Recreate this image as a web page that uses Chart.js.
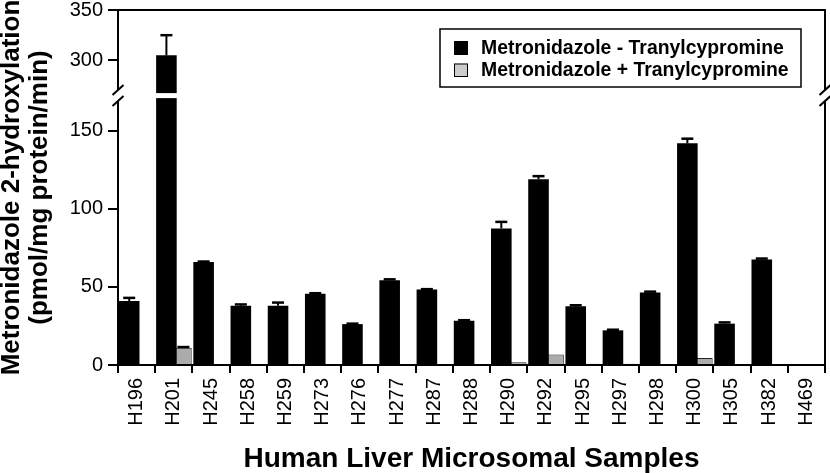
<!DOCTYPE html>
<html><head><meta charset="utf-8">
<script src="https://cdn.jsdelivr.net/npm/chart.js@4.4.1/dist/chart.umd.min.js"></script>
<style>html,body{margin:0;padding:0;background:#fff;}canvas{display:block;}</style>
</head><body>
<canvas id="c" width="830" height="473"></canvas>
<script>
// ---- data ----
const categories = ['H196','H201','H245','H258','H259','H273','H276','H277','H287','H288','H290','H292','H295','H297','H298','H300','H305','H382','H469'];
const withoutTcp    = [41, 305, 66, 38, 38, 45.7, 26.2, 54.3, 48.3, 28.4, 87.5, 119, 37.6, 22.2, 46.5, 142, 26.5, 67.6, 0];
const withoutTcpErr = [2, 20, 0.3, 0.8, 2, 0.3, 0.3, 0.6, 0.3, 0.3, 4.2, 2, 0.7, 0.4, 0.5, 3, 0.8, 0.6, 0];
const withTcp       = [0, 11, 0, 0, 0, 0, 0, 0, 0, 0, 1.8, 6.7, 0.8, 0.8, 0.7, 4.5, 0, 0, 0];
const withTcpErr    = [0, 0.5, 0, 0, 0, 0, 0, 0, 0, 0, 0, 0, 0, 0, 0, 0, 0, 0, 0];
const yTicks = [0, 50, 100, 150, 300, 350];
const seriesNames = ['Metronidazole - Tranylcypromine', 'Metronidazole + Tranylcypromine'];
const yTitle = ['Metronidazole 2-hydroxylation', '(pmol/mg protein/min)'];
const xTitle = 'Human Liver Microsomal Samples';
const axisBreak = { low: 171, high: 267.5 };

// ---- styling ----
const FONT = '"Liberation Sans", Arial, Helvetica, sans-serif';
const BREAK_FRAC = { low: 0.7518, high: 0.7659 };
const BLACK = '#000000', GRAY = '#ababab', LEGEND_GRAY = '#cccccc';

class BrokenScale extends Chart.LinearScale {
  static id = 'broken';
  getPixelForValue(value) {
    if (value === null || value === undefined || isNaN(value)) return NaN;
    const max = this.max;
    let dec;
    if (value <= axisBreak.low) dec = value / axisBreak.low * BREAK_FRAC.low;
    else if (value >= axisBreak.high) dec = BREAK_FRAC.high + (value - axisBreak.high) / (max - axisBreak.high) * (1 - BREAK_FRAC.high);
    else dec = BREAK_FRAC.low + (value - axisBreak.low) / (axisBreak.high - axisBreak.low) * (BREAK_FRAC.high - BREAK_FRAC.low);
    return this.getPixelForDecimal(dec);
  }
  getValueForPixel(pixel) {
    const dec = this.getDecimalForPixel(pixel);
    if (dec <= BREAK_FRAC.low) return dec / BREAK_FRAC.low * axisBreak.low;
    if (dec >= BREAK_FRAC.high) return axisBreak.high + (dec - BREAK_FRAC.high) / (1 - BREAK_FRAC.high) * (this.max - axisBreak.high);
    return axisBreak.low + (dec - BREAK_FRAC.low) / (BREAK_FRAC.high - BREAK_FRAC.low) * (axisBreak.high - axisBreak.low);
  }
}
Chart.register(BrokenScale);

const decor = {
  id: 'decor',
  afterDatasetsDraw(chart) {
    const { ctx, scales: { y } } = chart;
    [[0, withoutTcp, withoutTcpErr], [1, withTcp, withTcpErr]].forEach(([di, vals, errs]) => {
      const meta = chart.getDatasetMeta(di);
      meta.data.forEach((bar, i) => {
        const e = errs[i];
        if (!e) return;
        const yTop = y.getPixelForValue(vals[i] + e);
        ctx.save();
        ctx.strokeStyle = BLACK;
        ctx.lineWidth = 2;
        ctx.beginPath(); ctx.moveTo(bar.x, bar.y); ctx.lineTo(bar.x, yTop); ctx.stroke();
        ctx.lineWidth = 2.5;
        ctx.beginPath(); ctx.moveTo(bar.x - 6, yTop); ctx.lineTo(bar.x + 6, yTop); ctx.stroke();
        ctx.restore();
      });
    });
  },
  afterDraw(chart) {
    const { ctx, chartArea: ca, scales: { y } } = chart;
    ctx.save();
    // frame top & right
    ctx.strokeStyle = BLACK; ctx.lineWidth = 2;
    ctx.beginPath();
    ctx.moveTo(ca.left, ca.top); ctx.lineTo(ca.right, ca.top); ctx.lineTo(ca.right, ca.bottom + 1);
    ctx.stroke();
    // axis break
    const g1 = y.getPixelForValue(axisBreak.high), g2 = y.getPixelForValue(axisBreak.low);
    ctx.fillStyle = '#ffffff';
    ctx.fillRect(ca.left + 1, g1, ca.right - ca.left - 2, g2 - g1);
    const gm = (g1 + g2) / 2;
    [ca.left, ca.right].forEach(xa => {
      ctx.fillStyle = '#ffffff';
      ctx.fillRect(xa - 3, gm - 5.5, 6, 11);
      ctx.strokeStyle = BLACK; ctx.lineWidth = 2;
      [gm - 5.5, gm + 5.5].forEach(cy => {
        ctx.beginPath(); ctx.moveTo(xa - 5.5, cy + 5); ctx.lineTo(xa + 5.5, cy - 5); ctx.stroke();
      });
    });
    // legend
    ctx.lineWidth = 1.5; ctx.strokeStyle = BLACK;
    ctx.strokeRect(440, 29, 361, 58);
    ctx.fillStyle = BLACK; ctx.fillRect(454, 41, 14, 14);
    ctx.fillStyle = LEGEND_GRAY; ctx.fillRect(454, 63.5, 14, 13);
    ctx.lineWidth = 1; ctx.strokeRect(454.5, 64, 13, 12.5);
    ctx.fillStyle = BLACK;
    ctx.font = 'bold 19.4px ' + FONT;
    ctx.textBaseline = 'middle'; ctx.textAlign = 'left';
    ctx.fillText(seriesNames[0], 481, 48.5);
    ctx.fillText(seriesNames[1], 481, 71);
    ctx.restore();
  }
};

new Chart(document.getElementById('c'), {
  type: 'bar',
  data: {
    labels: categories,
    datasets: [
      { label: seriesNames[0], data: withoutTcp, backgroundColor: BLACK, borderWidth: 0,
        categoryPercentage: 0.796, barPercentage: 1.39 },
      { label: seriesNames[1], data: withTcp, backgroundColor: GRAY, borderColor: '#222', borderWidth: 1,
        categoryPercentage: 1.032, barPercentage: 0.865 }
    ]
  },
  options: {
    responsive: false,
    animation: false,
    layout: { padding: { top: 10, right: 5, left: 0, bottom: 0 } },
    plugins: { legend: { display: false }, tooltip: { enabled: false } },
    scales: {
      x: {
        type: 'category',
        offset: true,
        afterFit: s => { s.height = 108; s.paddingLeft = 0; s.paddingRight = 0; },
        grid: { offset: true, drawOnChartArea: false, drawTicks: true, tickLength: 8, color: BLACK, lineWidth: 2 },
        border: { display: true, color: BLACK, width: 2 },
        ticks: { color: BLACK, font: { family: FONT, size: 20, lineHeight: 1 }, padding: 5,
                 maxRotation: 90, minRotation: 90, autoSkip: false },
        title: { display: true, text: xTitle, color: BLACK,
                 font: { family: FONT, size: 28, weight: 'bold', lineHeight: 1 }, padding: { top: 0, bottom: 0 } }
      },
      y: {
        type: 'broken',
        min: 0, max: 350,
        afterBuildTicks: s => { s.ticks = yTicks.map(v => ({ value: v })); },
        afterFit: s => { s.width = 118; s.paddingTop = 0; s.paddingBottom = 0; },
        grid: { drawOnChartArea: false, drawTicks: true, tickLength: 10, color: BLACK, lineWidth: 2 },
        border: { display: true, color: BLACK, width: 2 },
        ticks: { color: BLACK, font: { family: FONT, size: 20, lineHeight: 1 }, padding: 5, autoSkip: false },
        title: { display: true, text: yTitle, color: BLACK,
                 font: { family: FONT, size: 26, weight: 'bold', lineHeight: 1.08 }, padding: { top: -2.5, bottom: 0 } }
      }
    }
  },
  plugins: [decor]
});
</script>
</body></html>
